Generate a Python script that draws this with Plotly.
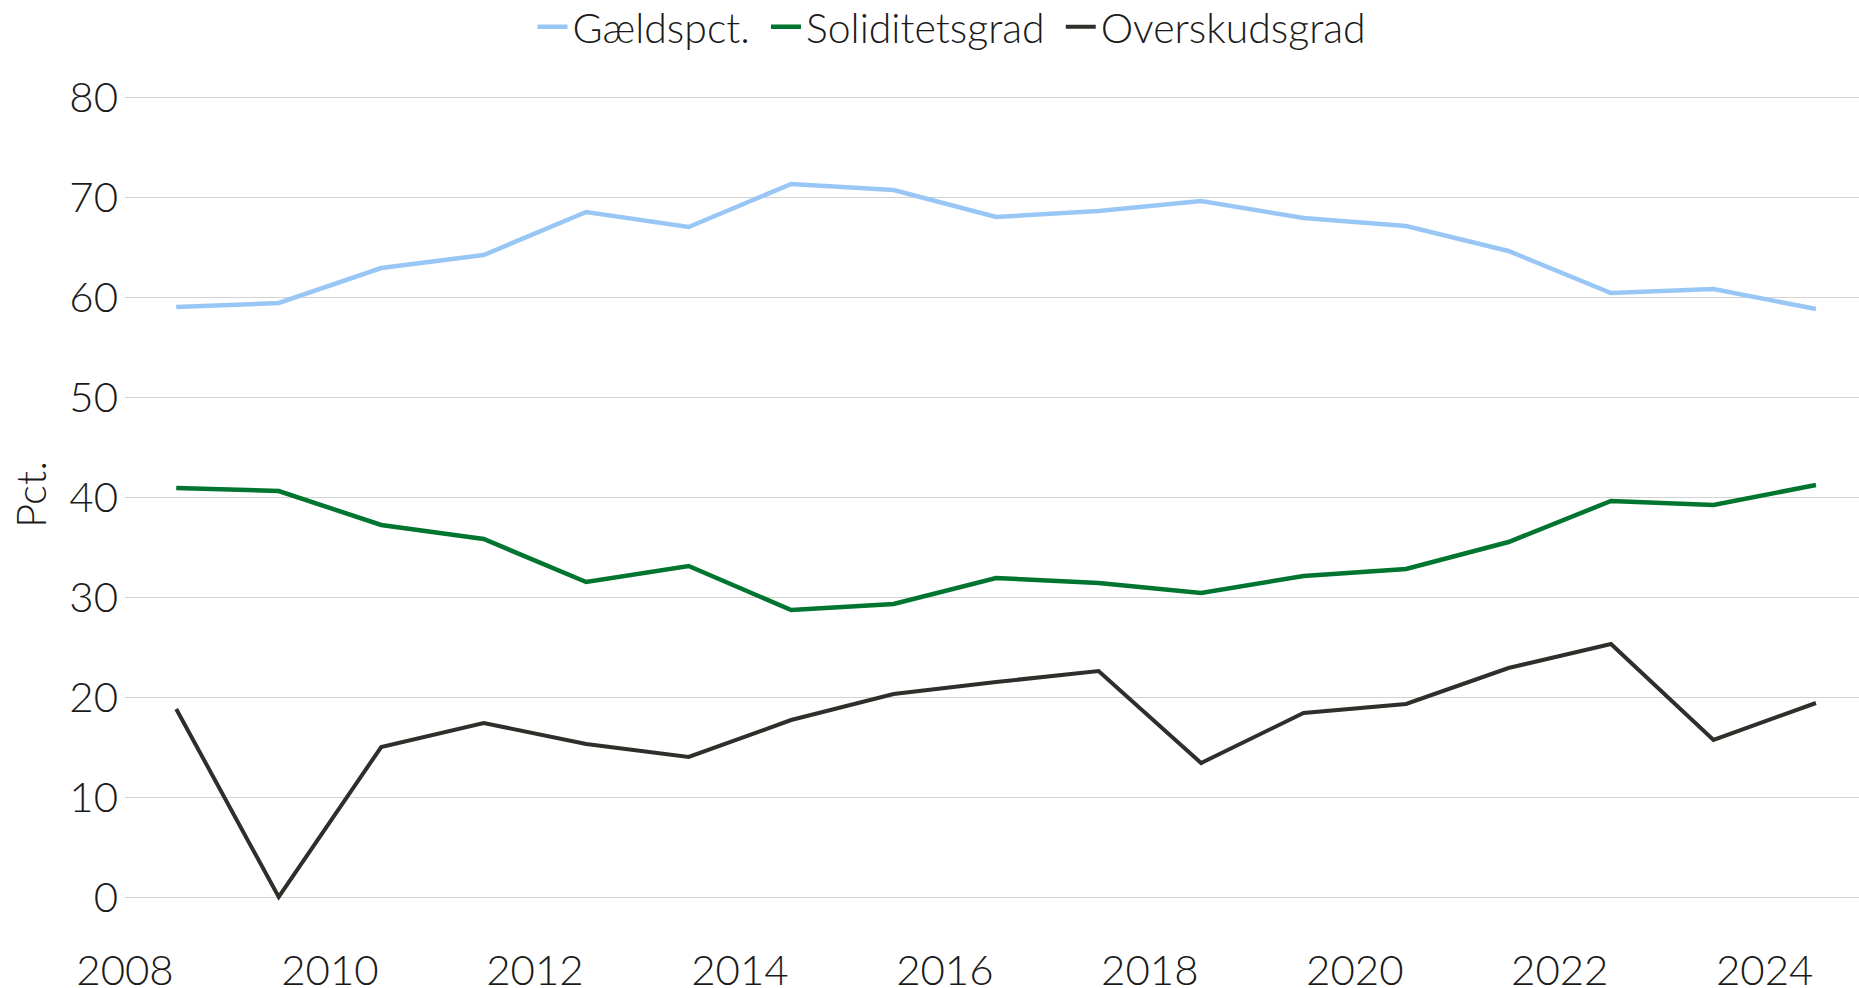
import plotly.graph_objects as go

years = [2008.5 + i for i in range(17)]
gaeld = [59.0, 59.4, 62.9, 64.2, 68.5, 67.0, 71.3, 70.7, 68.0, 68.6, 69.6, 67.9, 67.1, 64.6, 60.4, 60.8, 58.8]
solid = [40.9, 40.6, 37.2, 35.8, 31.5, 33.1, 28.7, 29.3, 31.9, 31.4, 30.4, 32.1, 32.8, 35.5, 39.6, 39.2, 41.2]
oversk = [18.8, 0.0, 15.0, 17.4, 15.3, 14.0, 17.7, 20.3, 21.5, 22.6, 13.4, 18.4, 19.3, 22.9, 25.3, 15.7, 19.4]

names = ["Gældspct.", "Soliditetsgrad", "Overskudsgrad"]
colors = ["#99C7F5", "#00752F", "#2E2E2A"]
widths = [4.5, 4.5, 4.0]
x_ticks = [2008, 2010, 2012, 2014, 2016, 2018, 2020, 2022, 2024]
y_ticks = [0, 10, 20, 30, 40, 50, 60, 70, 80]

FONT = "Lato"
PAD = "\u00a0"
fig = go.Figure()
for i, (name, vals, col, w) in enumerate(zip(names, [gaeld, solid, oversk], colors, widths)):
    label = name + (PAD if i < len(names) - 1 else "")
    fig.add_trace(go.Scatter(x=years, y=vals, name=label, mode="lines",
                             line=dict(color=col, width=w)))

fig.update_layout(
    width=1859, height=988,
    paper_bgcolor="white", plot_bgcolor="white",
    margin=dict(l=125, r=0, t=47, b=46, autoexpand=False),
    font=dict(family=FONT, size=42, color="#1a1a1a", weight=300),
    showlegend=True,
    legend=dict(orientation="h", x=(952 - 125) / 1734, xanchor="center", xref="paper",
                y=1 - 27 / 988, yanchor="middle", yref="container",
                font=dict(size=41, weight=300), itemwidth=30, tracegroupgap=0),
    xaxis=dict(range=[2008, 2024.92], tickvals=x_ticks, ticktext=[str(t) for t in x_ticks],
               showgrid=False, zeroline=False, showline=False, ticks="",
               tickfont=dict(size=42, weight=300), automargin=False),
    yaxis=dict(range=[-4.5, 85], tickvals=y_ticks, showgrid=True, gridcolor="#D3D3D3",
               gridwidth=1, zeroline=False, showline=False, ticks="",
               tickfont=dict(size=42, weight=300), ticklabelstandoff=6, automargin=False,
               title=dict(text="Pct.", font=dict(size=42, weight=300), standoff=9)),
)

fig.write_html("out.html", config={"displayModeBar": False},
               post_script="document.body.style.margin='0';")
